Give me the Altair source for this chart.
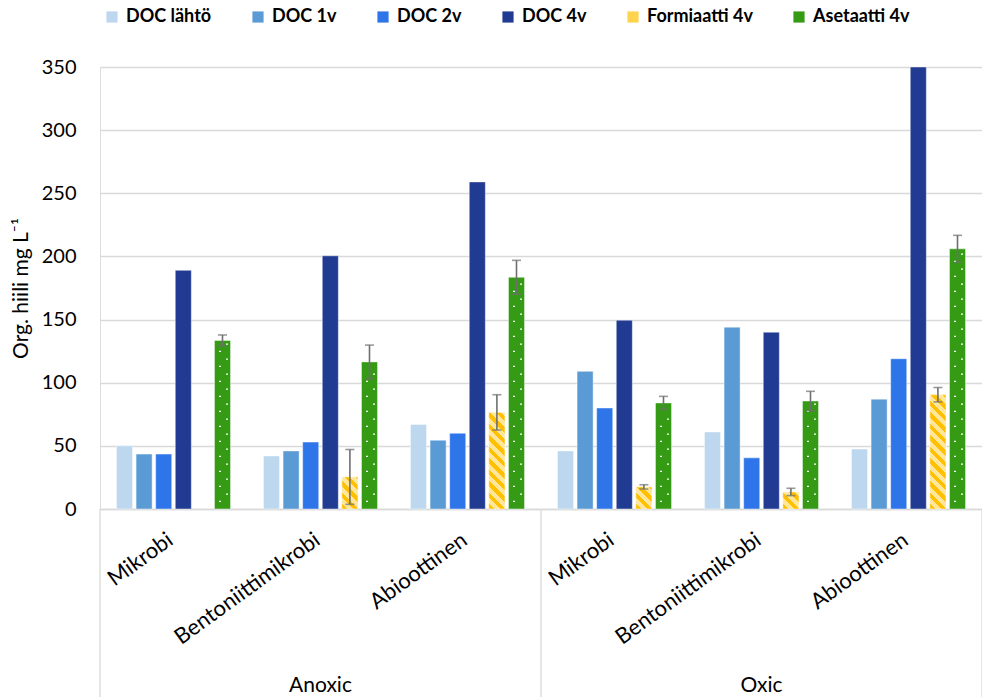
import altair as alt
import pandas as pd

# ---- data -------------------------------------------------------------
conditions = ["Anoxic", "Oxic"]
treatments = ["Mikrobi", "Bentoniittimikrobi", "Abioottinen"]
series = ["DOC lähtö", "DOC 1v", "DOC 2v", "DOC 4v", "Formiaatti 4v", "Asetaatti 4v"]
series_colors = ["#BDD7EE", "#5B9BD5", "#2F75EA", "#213A92", "#FFD34D", "#359A14"]

# order: Anoxic (Mikrobi, Bentoniittimikrobi, Abioottinen), Oxic (same)
doc_lahto = [50, 42, 67, 46, 61, 47.5]
doc_1v = [43.5, 46, 54.5, 109, 144, 87]
doc_2v = [43.5, 53, 60, 80, 40.5, 119]
doc_4v = [189, 200.5, 259, 149.5, 140, 350]
formiaatti = [None, 25.4, 76.5, 17.5, 13.5, 90.5]
asetaatti = [133.5, 116.5, 183.5, 84, 85.5, 206]
formiaatti_err = [None, 21.7, 14, 1.7, 2.9, 5.7]
asetaatti_err = [4.3, 13.3, 13.4, 5.2, 7.7, 10.7]

y_title = "Org. hiili  mg L⁻¹"
y_ticks = [0, 50, 100, 150, 200, 250, 300, 350]

# ---- layout ------------------------------------------------------------
W, H = 882, 442
Y_MAX = 350
PX = H / Y_MAX
OFF_INNER, OFF_OUTER = 0.18, 0.84
step = (W / 6) / (6 - OFF_INNER + 2 * OFF_OUTER)
BAR_W = step * (1 - OFF_INNER)
FONT = "Lato"

groups = [f"{c}|{t}" for c in conditions for t in treatments]

rows = []
for name, vals in zip(series, [doc_lahto, doc_1v, doc_2v, doc_4v, formiaatti, asetaatti]):
    for g, v in zip(groups, vals):
        if v is not None:
            rows.append({"group": g, "series": name, "value": v})
bars_df = pd.DataFrame(rows)

err_rows = []
for name, vals, errs in [("Formiaatti 4v", formiaatti, formiaatti_err),
                         ("Asetaatti 4v", asetaatti, asetaatti_err)]:
    for g, v, e in zip(groups, vals, errs):
        if v is not None:
            err_rows.append({"group": g, "series": name, "low": v - e, "high": v + e})
err_df = pd.DataFrame(err_rows)

# white confetti dots inside the acetate bars (one symbol per 15 px repeat)
dot_rows = []
for g, v in zip(groups, asetaatti):
    h = v * PX
    k = 0
    while 11.25 + 15 * k + 5 <= h:
        dot_rows.append({"group": g, "series": "Asetaatti 4v", "value": (11.25 + 15 * k) / PX})
        k += 1
dots_df = pd.DataFrame(dot_rows)

cond_df = pd.DataFrame({"group": [f"{c}|{treatments[1]}" for c in conditions], "label": conditions})
left_edges = pd.DataFrame({"group": [f"{c}|{treatments[0]}" for c in conditions]})
right_edge = pd.DataFrame({"group": [groups[-1]]})

# ---- encodings ---------------------------------------------------------
x_axis = alt.Axis(title=None, labelAngle=-36, labelExpr="split(datum.value, '|')[1]",
                  labelFontSize=22, labelColor="#000000", labelFont=FONT, ticks=False,
                  domainColor="#D9D9D9", domainWidth=1.5, labelPadding=28,
                  labelOffset=-3, labelAlign="right", labelBaseline="middle",
                  labelLimit=400)
x_scale = alt.Scale(domain=groups, paddingInner=0, paddingOuter=0)


def x_enc(**kw):
    return alt.X("group:N", sort=groups, scale=x_scale, axis=x_axis, **kw)


xoff = alt.XOffset("series:N", scale=alt.Scale(domain=series, paddingInner=OFF_INNER,
                                               paddingOuter=OFF_OUTER))

y_axis = alt.Axis(values=y_ticks, grid=True, gridColor="#D9D9D9", gridWidth=1.3,
                  domain=False, ticks=False, labelFontSize=20, labelColor="#000000",
                  labelPadding=24, labelFont=FONT, title=y_title, titleFontSize=21,
                  titleFontWeight="normal", titleColor="#000000", titleFont=FONT,
                  titlePadding=10)
y_scale = alt.Scale(domain=[0, Y_MAX], nice=False, zero=True)


def y_enc(field):
    return alt.Y(f"{field}:Q", scale=y_scale, axis=y_axis)


color = alt.Color("series:N", scale=alt.Scale(domain=series, range=series_colors),
                  legend=alt.Legend(orient="none", legendX=3, legendY=-59,
                                    direction="horizontal", title=None,
                                    symbolType="square", symbolSize=125,
                                    symbolStrokeWidth=0, labelFontSize=18,
                                    labelFontWeight="bold", labelFont=FONT,
                                    labelColor="#000000", columnPadding=37,
                                    labelOffset=5, padding=0, labelLimit=300))

base = alt.Chart(bars_df)
bars = base.mark_bar(stroke="white", strokeOpacity=0.45, strokeWidth=1).encode(
    x=x_enc(), xOffset=xoff, y=y_enc("value"), color=color
)

# diagonal stripe fill for the formate bars
YELLOW, LIGHT = "#FFC000", "#FFE699"


def stripe_fill(h, period=11.5, share=0.45):
    total = BAR_W + h
    s = total / (BAR_W ** 2 + h ** 2)
    frac = period / total
    stops = []
    pos = 0.0
    while pos < 1:
        b = min(pos + share * frac, 1)
        c = min(pos + frac, 1)
        stops += [{"offset": round(pos, 5), "color": YELLOW},
                  {"offset": round(b, 5), "color": YELLOW},
                  {"offset": round(b, 5), "color": LIGHT},
                  {"offset": round(c, 5), "color": LIGHT}]
        pos += frac
    return {"gradient": "linear", "x1": 0, "y1": 1,
            "x2": round(s * BAR_W, 5), "y2": round(1 - s * h, 5), "stops": stops}


stripe_layers = []
for g, v in zip(groups, formiaatti):
    if v is None:
        continue
    stripe_layers.append(
        base.transform_filter(
            (alt.datum.group == g) & (alt.datum.series == "Formiaatti 4v")
        ).mark_bar(fill=stripe_fill(v * PX), stroke="white", strokeOpacity=0.45,
                   strokeWidth=1).encode(x=x_enc(), xOffset=xoff, y=y_enc("value"))
    )

dots = alt.Chart(dots_df).mark_point(
    shape="M-3.5,3h2v1.3h-2Z M3.5,-4.3h2v1.3h-2Z", size=4, filled=True,
    fill="white", strokeWidth=0, opacity=1
).encode(x=x_enc(), xOffset=xoff, y=y_enc("value"))

err_rule = alt.Chart(err_df).mark_rule(color="#6F6F6F", strokeWidth=1.6).encode(
    x=x_enc(), xOffset=xoff, y=y_enc("low"), y2="high:Q"
)
err_top = alt.Chart(err_df).mark_tick(color="#6F6F6F", size=9, thickness=1.6).encode(
    x=x_enc(), xOffset=xoff, y=y_enc("high")
)
err_bot = alt.Chart(err_df).mark_tick(color="#6F6F6F", size=9, thickness=1.6).encode(
    x=x_enc(), xOffset=xoff, y=y_enc("low")
)

sep_left = alt.Chart(left_edges).mark_rule(color="#D9D9D9", strokeWidth=1.3).encode(
    x=x_enc(bandPosition=0), y=alt.value(H), y2=alt.value(H + 190)
)
sep_right = alt.Chart(right_edge).mark_rule(color="#D9D9D9", strokeWidth=1.3).encode(
    x=x_enc(bandPosition=1), y=alt.value(H), y2=alt.value(H + 190)
)

cond_text = alt.Chart(cond_df).mark_text(
    fontSize=21, font=FONT, color="#000000", baseline="middle"
).encode(x=x_enc(), y=alt.value(H + 177), text="label:N")

chart = alt.layer(
    bars, *stripe_layers, dots, err_rule, err_top, err_bot, sep_left, sep_right, cond_text
).properties(
    width=W, height=H,
    padding={"left": 100, "top": 67, "right": 0, "bottom": 188},
    autosize=alt.AutoSizeParams(type="none"),
).configure_view(stroke=None).configure(font=FONT, background="white")

chart.save("out.html", embed_options={"renderer": "svg", "actions": False})
